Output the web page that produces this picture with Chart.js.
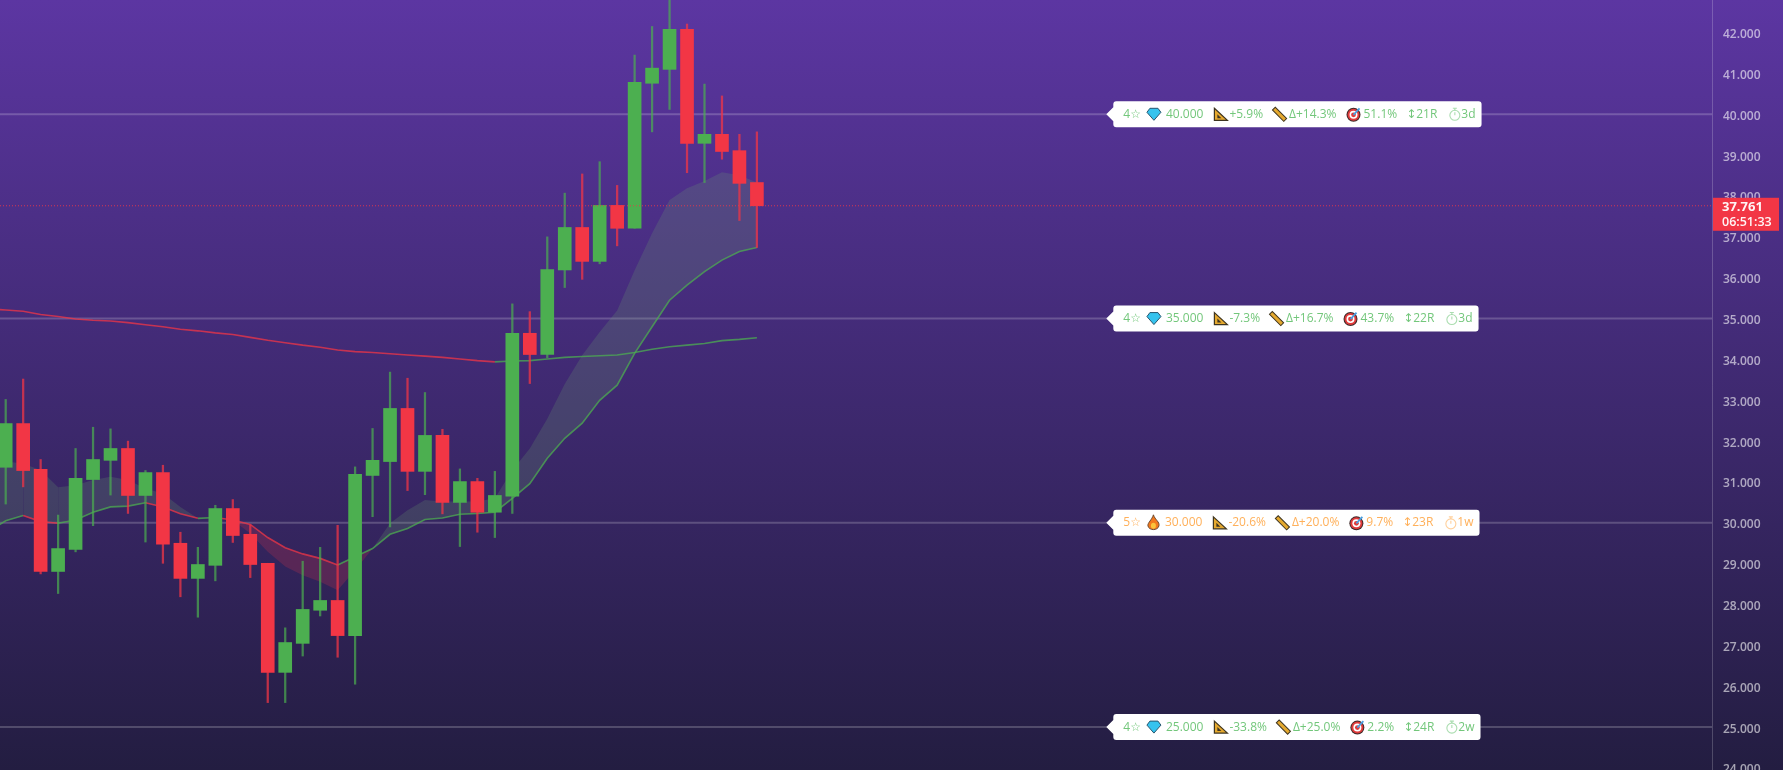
<!DOCTYPE html>
<html>
<head>
<meta charset="utf-8">
<title>Chart</title>
<style>
  html, body { margin: 0; padding: 0; width: 1783px; height: 770px; overflow: hidden; }
  body { background: linear-gradient(180deg, #5c36a2 0%, #231d41 100%); }
  canvas { display: block; }
</style>
<script src="https://cdn.jsdelivr.net/npm/chart.js@4"></script>
</head>
<body>
<canvas id="chart" width="1783" height="770"></canvas>
<script>
// candles, one per day index
const days = [...Array(44).keys()];
const opens = [31.36,32.43,31.31,28.81,29.35,31.06,31.53,31.82,30.67,31.23,29.50,28.64,28.96,30.35,29.72,29.01,26.34,27.05,27.86,28.10,27.24,31.16,31.50,32.80,31.26,32.14,30.50,31.01,30.26,30.65,34.64,34.12,36.19,37.23,36.40,37.77,37.21,40.76,41.10,42.08,39.29,39.51,39.11,38.33];
const highs = [33.02,33.52,31.55,30.19,31.82,32.34,32.30,32.00,31.28,31.41,29.77,29.40,30.43,30.57,29.95,29.01,27.43,29.06,29.40,29.94,31.37,32.31,33.69,33.54,33.19,32.29,31.32,31.09,31.26,35.36,35.17,37.00,38.07,38.54,38.84,38.26,41.45,42.15,42.90,42.21,40.74,40.45,39.51,39.57];
const lows = [30.46,30.88,28.75,28.27,29.29,29.93,30.68,30.23,29.53,29.01,28.19,27.69,28.58,29.52,28.66,25.60,25.60,26.74,27.72,26.71,26.05,30.15,29.90,30.79,30.69,30.22,29.42,29.77,29.64,30.23,33.41,34.04,35.76,35.96,36.34,36.78,37.21,39.57,40.12,38.57,38.33,38.90,37.40,36.74];
const closes = [32.43,31.28,28.81,29.37,31.09,31.55,31.82,30.67,31.23,29.48,28.64,28.98,30.35,29.69,28.98,26.34,27.07,27.88,28.10,27.24,31.19,31.53,32.80,31.26,32.14,30.50,31.01,30.26,30.67,34.64,34.12,36.20,37.23,36.40,37.77,37.21,40.78,41.13,42.08,39.29,39.51,39.09,38.31,37.761];

// moving averages, these start one day before the first candle so they run off the left edge
const lineDays = [-1, ...days];
const fastMa = [29.78,30.05,30.18,30.03,29.99,30.07,30.26,30.39,30.41,30.49,30.39,30.22,30.11,30.13,30.07,29.96,29.64,29.39,29.24,29.13,28.97,29.17,29.37,29.72,29.86,30.08,30.12,30.21,30.23,30.26,30.60,30.96,31.58,32.07,32.44,33.00,33.37,34.15,34.80,35.45,35.82,36.15,36.43,36.64,36.74];
const bandMa = [31.50,31.50,31.45,31.29,30.87,30.92,31.05,31.13,31.05,30.84,30.72,30.39,30.11,30.13,30.07,29.74,29.29,28.93,28.72,28.56,28.35,28.84,29.37,29.99,30.31,30.56,30.52,30.52,30.52,30.60,31.29,31.82,32.55,33.40,34.10,34.67,35.20,36.18,37.09,37.90,38.19,38.37,38.58,38.51,38.33];
const slowMa = [35.24,35.21,35.18,35.10,35.05,34.99,34.96,34.94,34.90,34.85,34.80,34.74,34.70,34.65,34.61,34.54,34.47,34.41,34.35,34.30,34.23,34.19,34.17,34.14,34.11,34.08,34.05,34.01,33.97,33.94,33.96,33.97,34.01,34.05,34.07,34.09,34.11,34.17,34.25,34.31,34.35,34.39,34.46,34.49,34.53];

// price levels and their labels
const levelPrices = [40, 35, 30, 25];
const levelStars = ['4☆', '4☆', '5☆', '4☆'];
const levelTexts = ['40.000', '35.000', '30.000', '25.000'];
const levelMoves = ['+5.9%', '-7.3%', '-20.6%', '-33.8%'];
const levelDeltas = ['Δ+14.3%', 'Δ+16.7%', 'Δ+20.0%', 'Δ+25.0%'];
const levelOdds = ['51.1%', '43.7%', '9.7%', '2.2%'];
const levelRanges = ['↕21R', '↕22R', '↕23R', '↕24R'];
const levelTimes = ['3d', '3d', '1w', '2w'];

const lastPrice = 37.761;
const lastPriceText = '37.761';
const countdownText = '06:51:33';

const GREEN = '#4caf50';
const RED = '#f23645';
const LABEL_GREEN = '#73c77b';
const LABEL_ORANGE = '#ffb05a';
const FONT = '"Open Sans", "DejaVu Sans", sans-serif';

const X_MIN = -0.326;
const X_MAX = 97.67;
const Y_MIN = 23.95;
const Y_MAX = 42.798;
const LABEL_DAY = 63; // where the arrow of the label points

const upOrDown = ctx => ctx.p1.parsed.y >= ctx.p0.parsed.y ? 'rgba(76,175,80,0.75)' : 'rgba(242,54,69,0.75)';
const linePoints = values => values.map((y, i) => ({ x: lineDays[i], y }));

function drawDiamond(c, x, y) {
    c.beginPath();
    c.moveTo(x + 3, y - 6); c.lineTo(x + 11, y - 6); c.lineTo(x + 14, y - 2); c.lineTo(x + 7, y + 6); c.lineTo(x, y - 2);
    c.closePath();
    c.fillStyle = '#35c3ee'; c.fill();
    c.strokeStyle = '#27566e'; c.lineWidth = 1; c.stroke();
}

function drawFlame(c, x, y) {
    c.beginPath();
    c.moveTo(x + 6.5, y - 8);
    c.bezierCurveTo(x + 8, y - 3, x + 13, y - 1, x + 12, y + 3);
    c.bezierCurveTo(x + 11, y + 8, x + 2, y + 8, x + 1, y + 3);
    c.bezierCurveTo(x + 0.5, y, x + 5, y - 3, x + 6.5, y - 8);
    c.fillStyle = '#f2791e'; c.fill();
    c.strokeStyle = '#6b4a30'; c.lineWidth = 1; c.stroke();
    c.beginPath(); c.ellipse(x + 6.5, y + 3, 2.5, 3, 0, 0, 7);
    c.fillStyle = '#fbc43c'; c.fill();
}

function drawSetSquare(c, x, y) {
    c.beginPath();
    c.moveTo(x + 1, y - 6); c.lineTo(x + 14, y + 6); c.lineTo(x + 1, y + 6);
    c.closePath();
    c.fillStyle = '#e5a92f'; c.fill();
    c.strokeStyle = '#3d3420'; c.lineWidth = 1.2; c.stroke();
    c.beginPath();
    c.moveTo(x + 4, y); c.lineTo(x + 8, y + 4); c.lineTo(x + 4, y + 4);
    c.closePath();
    c.fillStyle = '#3d3420'; c.fill();
}

function drawRuler(c, x, y) {
    c.save();
    c.translate(x + 6.5, y);
    c.rotate(Math.PI / 4);
    c.fillStyle = '#e5a92f'; c.strokeStyle = '#3d3420'; c.lineWidth = 1;
    c.fillRect(-8, -2, 16, 4); c.strokeRect(-8, -2, 16, 4);
    c.restore();
}

function drawTarget(c, x, y) {
    [[7, '#3d2a2a'], [6, '#e03a3a'], [4, '#ffffff'], [2.4, '#e03a3a']].forEach(([r, col]) => {
        c.beginPath(); c.arc(x + 7, y + 0.5, r, 0, 7); c.fillStyle = col; c.fill();
    });
    c.beginPath(); c.moveTo(x + 7, y + 0.5); c.lineTo(x + 13, y - 6);
    c.strokeStyle = '#4a9fe0'; c.lineWidth = 1.8; c.stroke();
}

function drawClock(c, x, y, color) {
    c.save();
    c.globalAlpha = 0.6;
    c.strokeStyle = color; c.lineWidth = 1.1;
    c.beginPath(); c.arc(x + 5.5, y + 1, 5, 0, 7); c.stroke();
    c.beginPath(); c.moveTo(x + 5.5, y - 6); c.lineTo(x + 5.5, y - 4); c.moveTo(x + 3.5, y - 6); c.lineTo(x + 7.5, y - 6);
    c.moveTo(x + 5.5, y + 1); c.lineTo(x + 5.5, y - 2); c.stroke();
    c.restore();
}

// one label: left to right, a list of texts and icons with the gap in front of each
function drawLevelLabel(chart, i) {
    const c = chart.ctx;
    const y = chart.scales.y.getPixelForValue(levelPrices[i]);
    const tip = chart.scales.x.getPixelForValue(LABEL_DAY);
    const fire = levelStars[i] === '5☆';
    const color = fire ? LABEL_ORANGE : LABEL_GREEN;
    const parts = [
        [10, levelStars[i]],
        [6, fire ? drawFlame : drawDiamond, fire ? 13 : 14],
        [5, levelTexts[i]],
        [10, drawSetSquare, 15],
        [1, levelMoves[i]],
        [10, drawRuler, 13],
        [3, levelDeltas[i]],
        [10, drawTarget, 15],
        [2, levelOdds[i]],
        [9, levelRanges[i]],
        [12, drawClock, 11],
        [1, levelTimes[i]]
    ];
    c.save();
    c.font = '12px ' + FONT;
    const width = parts.reduce((w, p) => w + p[0] + (typeof p[1] === 'string' ? c.measureText(p[1]).width : p[2]), 0) + 6;
    const left = tip + 7;
    c.beginPath();
    c.moveTo(tip, y);
    c.lineTo(left, y - 7);
    c.lineTo(left, y - 10);
    c.arcTo(left, y - 13, left + 3, y - 13, 3);
    c.arcTo(left + width, y - 13, left + width, y - 10, 3);
    c.arcTo(left + width, y + 13, left + width - 3, y + 13, 3);
    c.arcTo(left, y + 13, left, y + 10, 3);
    c.lineTo(left, y + 7);
    c.closePath();
    c.fillStyle = '#ffffff';
    c.fill();
    let x = left;
    c.textBaseline = 'middle';
    parts.forEach(p => {
        x += p[0];
        if (typeof p[1] === 'string') {
            c.fillStyle = color;
            c.font = '12px ' + FONT;
            c.fillText(p[1], x, y);
            x += c.measureText(p[1]).width;
        } else {
            p[1](c, x, y, color);
            x += p[2];
        }
    });
    c.restore();
}

const overlayPlugin = {
    id: 'overlay',
    afterDraw(chart) {
        const c = chart.ctx;
        levelPrices.forEach((_, i) => drawLevelLabel(chart, i));

        // price tag on the axis
        const y = chart.scales.y.getPixelForValue(lastPrice);
        const left = chart.chartArea.right + 1;
        c.save();
        c.fillStyle = RED;
        c.fillRect(left, y - 8, 66, 33);
        c.fillStyle = 'rgba(255,255,255,0.95)';
        c.textBaseline = 'middle';
        c.font = '700 13px ' + FONT;
        c.fillText(lastPriceText, left + 9, y + 2);
        c.font = '600 12.5px ' + FONT;
        c.fillText(countdownText, left + 9, y + 17);
        c.restore();
    }
};

new Chart(document.getElementById('chart'), {
    data: {
        datasets: [
            ...levelPrices.map(y => ({
                type: 'line',
                data: [{ x: X_MIN, y }, { x: X_MAX, y }],
                borderColor: 'rgba(255,255,255,0.2)',
                borderWidth: 2,
                pointRadius: 0,
                order: 6
            })),
            {
                type: 'line',
                data: linePoints(fastMa),
                segment: { borderColor: upOrDown },
                borderWidth: 1.6,
                pointRadius: 0,
                order: 4
            },
            {
                type: 'line',
                data: linePoints(bandMa),
                borderWidth: 0,
                pointRadius: 0,
                // index 4 is the fastMa dataset above
                fill: { target: 4, above: 'rgba(110,170,110,0.2)', below: 'rgba(242,54,69,0.2)' },
                order: 5
            },
            {
                type: 'line',
                data: linePoints(slowMa),
                segment: { borderColor: upOrDown },
                borderWidth: 1.6,
                pointRadius: 0,
                order: 4
            },
            {
                type: 'bar',
                data: days.map(i => ({ x: i, y: [lows[i], highs[i]] })),
                backgroundColor: days.map(i => closes[i] >= opens[i] ? 'rgba(76,175,80,0.7)' : 'rgba(242,54,69,0.75)'),
                barThickness: 1.6,
                grouped: false,
                clip: false,
                order: 2
            },
            {
                type: 'bar',
                data: days.map(i => ({ x: i, y: [opens[i], closes[i]] })),
                backgroundColor: days.map(i => closes[i] >= opens[i] ? GREEN : RED),
                barThickness: 13,
                grouped: false,
                order: 1
            },
            {
                type: 'line',
                data: [{ x: X_MIN, y: lastPrice }, { x: X_MAX, y: lastPrice }],
                borderColor: 'rgba(242,54,69,0.85)',
                borderWidth: 1,
                borderDash: [1, 2],
                pointRadius: 0,
                order: 0
            }
        ]
    },
    options: {
        responsive: false,
        animation: false,
        events: [],
        layout: { padding: 0 },
        plugins: { legend: { display: false }, tooltip: { enabled: false } },
        scales: {
            x: { type: 'linear', display: false, min: X_MIN, max: X_MAX, offset: false },
            y: {
                type: 'linear',
                position: 'right',
                min: Y_MIN,
                max: Y_MAX,
                afterFit(scale) {
                    scale.width = 71;
                    scale.paddingTop = 0;
                    scale.paddingBottom = 0;
                },
                grid: { display: false, drawTicks: false, tickLength: 0 },
                border: { display: true, color: 'rgba(255,255,255,0.2)', width: 1 },
                ticks: {
                    stepSize: 1,
                    includeBounds: false,
                    autoSkip: false,
                    padding: 11,
                    color: 'rgba(255,255,255,0.6)',
                    // blank first line with a short line height sets the labels 2px lower
                    font: { family: FONT, size: 12, weight: '600', lineHeight: '4px' },
                    callback: v => ['', v.toFixed(3)]
                }
            }
        }
    },
    plugins: [overlayPlugin]
});
</script>
</body>
</html>
